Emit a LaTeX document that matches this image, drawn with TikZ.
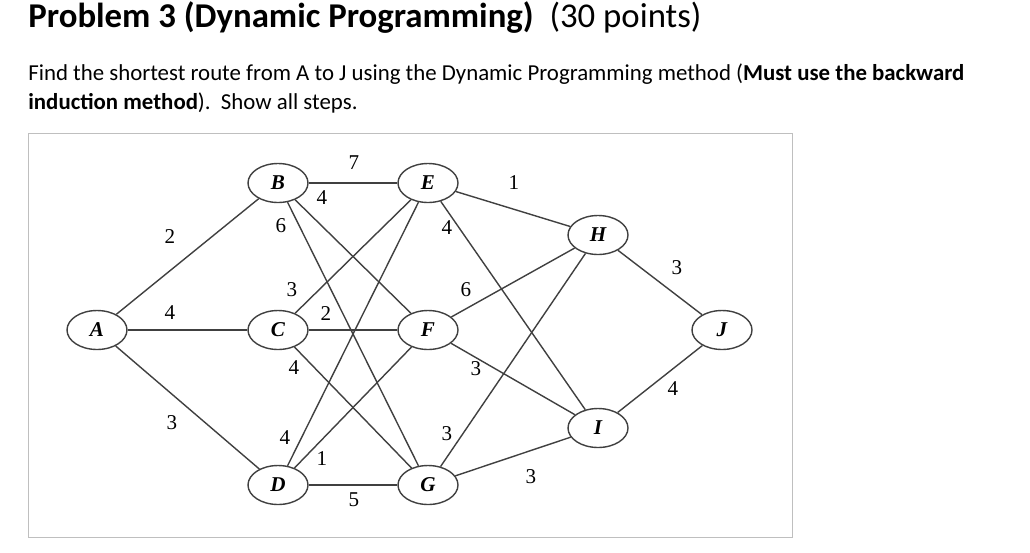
\documentclass[tikz,border=0pt]{standalone}
\usepackage{fontspec}
\setmainfont{Carlito}
\newfontfamily\graphfont{Liberation Serif}
\tikzset{
  stage/.style={draw=black!75, line width=0.8pt, ellipse, minimum width=1.2cm, minimum height=0.78cm,
    inner sep=0pt, font=\graphfont\bfseries\itshape\large},
  cost/.style={font=\graphfont\large, inner sep=0pt},
  road/.style={draw=black!75, line width=0.8pt}
}
\usetikzlibrary{shapes.geometric}
\begin{document}
\begin{tikzpicture}[x=0.02cm,y=-0.02cm]
  \useasboundingbox (0,0) rectangle (1030,552);
  % heading
  \node[anchor=west, font=\fontsize{19.8}{24}\selectfont, inner sep=0pt] (title) at (28,18)
    {\textbf{Problem 3 (Dynamic Programming)}\ \ (30 points)};
  \node[anchor=north west, font=\fontsize{13}{17}\selectfont, inner sep=0pt,
    align=left] (task) at (28,63)
    {Find the shortest route from A to J using the Dynamic Programming method (\textbf{Must use the backward}\\
     \textbf{induction method}).\ \ Show all steps.};
  \draw[black!25] (28,133) rectangle (792,537);
  % stages
  \node[stage] (A) at (97,330) {A};
  \node[stage] (B) at (278,183) {B};
  \node[stage] (C) at (278,330) {C};
  \node[stage] (D) at (278,485) {D};
  \node[stage] (E) at (428,183) {E};
  \node[stage] (F) at (428,330) {F};
  \node[stage] (G) at (428,485) {G};
  \node[stage] (H) at (598,235) {H};
  \node[stage] (I) at (598,428) {I};
  \node[stage] (J) at (722,330) {J};
  % roads
  \foreach \s/\t in {A/B,A/C,A/D,B/E,B/F,B/G,C/E,C/F,C/G,D/E,D/F,D/G,
                     E/H,E/I,F/H,F/I,G/H,G/I,H/J,I/J}
    \path[road] (\s) -- (\t);
  % costs
  \foreach \c/\x/\y in {2/170/237, 4/170/313, 3/172/423,
                        7/354/163, 4/322/198, 6/281/226,
                        3/292/290, 2/326/314, 4/294/368,
                        4/285/438, 1/322/459, 5/354/500,
                        1/514/183, 4/447/228, 6/466/290, 3/476/369,
                        3/447/434, 3/531/477, 3/677/268, 4/673/389}
    \node[cost] at (\x,\y) {\c};
\end{tikzpicture}
\end{document}
